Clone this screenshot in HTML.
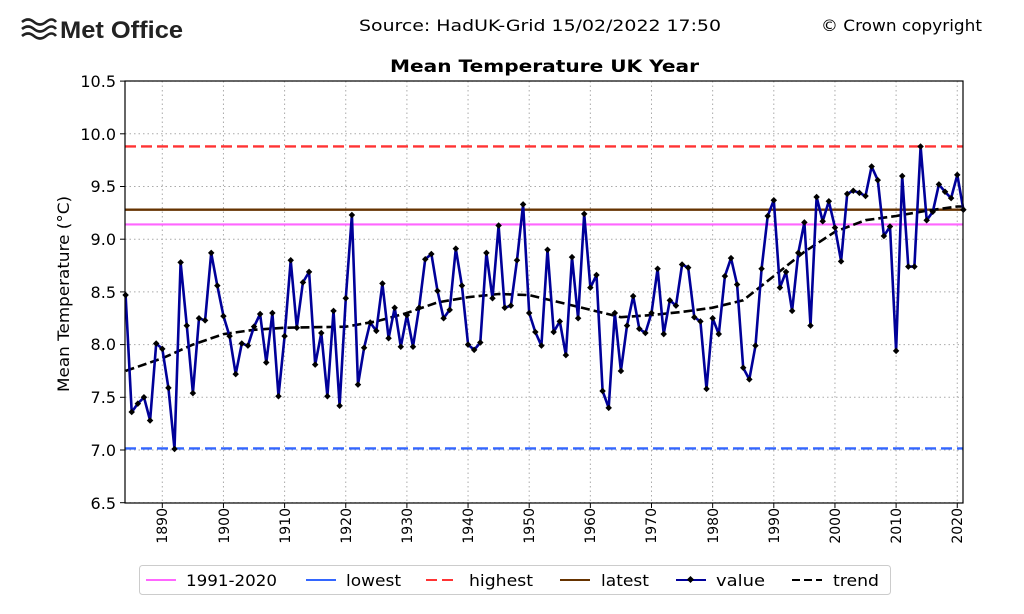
<!DOCTYPE html>
<html><head><meta charset="utf-8"><style>
html,body{margin:0;padding:0;background:#fff;}
svg{display:block;font-family:"DejaVu Sans","Liberation Sans",sans-serif;}
</style></head><body>
<svg id="s" width="1024" height="614" viewBox="0 0 1024 614" xmlns="http://www.w3.org/2000/svg">
<rect width="1024" height="614" fill="#fff"/>
<g stroke="#222" stroke-width="2.6" fill="none">
<path d="M22 22 q6 -5 12 0 t12 0 t10 0"/>
<path d="M22 29 q6 -5 12 0 t12 0 t10 0"/>
<path d="M22 36 q6 -5 12 0 t12 0 t10 0"/>
</g>
<text x="60" y="38" font-size="24" font-weight="bold" fill="#222" font-family="Liberation Sans" textLength="123" lengthAdjust="spacingAndGlyphs">Met Office</text>
<text x="359" y="31" font-size="16" fill="#000" textLength="362" lengthAdjust="spacingAndGlyphs">Source: HadUK-Grid 15/02/2022 17:50</text>
<text x="821" y="31" font-size="16" fill="#000" textLength="161" lengthAdjust="spacingAndGlyphs">© Crown copyright</text>
<text x="390" y="72" font-size="17" font-weight="bold" textLength="309" lengthAdjust="spacingAndGlyphs">Mean Temperature UK Year</text>
<text transform="translate(69,392) rotate(-90)" font-size="16" textLength="196" lengthAdjust="spacingAndGlyphs">Mean Temperature (°C)</text>
<g id="grid" stroke="#aaa" stroke-width="1" stroke-dasharray="1.5,3"></g>
<g id="ref"></g>
<g id="series"></g>
<rect x="125" y="81" width="838" height="422" fill="none" stroke="#000" stroke-width="1.2"/>
<g id="ticks" stroke="#000" stroke-width="1"></g>
<g id="ylab" font-size="16" text-anchor="end">
<text x="116" y="87">10.5</text><text x="116" y="140">10.0</text><text x="116" y="192">9.5</text>
<text x="116" y="245">9.0</text><text x="116" y="298">8.5</text><text x="116" y="350">8.0</text>
<text x="116" y="403">7.5</text><text x="116" y="456">7.0</text><text x="116" y="509">6.5</text>
</g>
<g font-size="14" text-anchor="end">
<text transform="translate(167,508) rotate(-90)">1890</text>
<text transform="translate(229,508) rotate(-90)">1900</text>
<text transform="translate(290,508) rotate(-90)">1910</text>
<text transform="translate(351,508) rotate(-90)">1920</text>
<text transform="translate(412,508) rotate(-90)">1930</text>
<text transform="translate(473,508) rotate(-90)">1940</text>
<text transform="translate(534,508) rotate(-90)">1950</text>
<text transform="translate(595,508) rotate(-90)">1960</text>
<text transform="translate(656,508) rotate(-90)">1970</text>
<text transform="translate(718,508) rotate(-90)">1980</text>
<text transform="translate(779,508) rotate(-90)">1990</text>
<text transform="translate(840,508) rotate(-90)">2000</text>
<text transform="translate(901,508) rotate(-90)">2010</text>
<text transform="translate(962,508) rotate(-90)">2020</text>
</g>
<rect x="139.5" y="565.5" width="751" height="29" rx="3" fill="#fff" stroke="#ccc"/>
<g font-size="16">
<line x1="146" y1="580" x2="176" y2="580" stroke="#ff66ff" stroke-width="2"/>
<text x="186" y="586" textLength="91" lengthAdjust="spacingAndGlyphs">1991-2020</text>
<line x1="306" y1="580" x2="336" y2="580" stroke="#3366ff" stroke-width="2"/>
<text x="346" y="586" textLength="55" lengthAdjust="spacingAndGlyphs">lowest</text>
<line x1="426" y1="580" x2="456" y2="580" stroke="#ff3333" stroke-width="2" stroke-dasharray="11,5"/>
<text x="469" y="586" textLength="64" lengthAdjust="spacingAndGlyphs">highest</text>
<line x1="560" y1="580" x2="590" y2="580" stroke="#663300" stroke-width="2"/>
<text x="601" y="586" textLength="48" lengthAdjust="spacingAndGlyphs">latest</text>
<line x1="676" y1="580" x2="706" y2="580" stroke="#000099" stroke-width="2"/>
<rect x="688" y="577" width="5" height="5" transform="rotate(45 690.5 579.5)" fill="#000"/>
<text x="716" y="586" textLength="49" lengthAdjust="spacingAndGlyphs">value</text>
<line x1="792" y1="580" x2="822" y2="580" stroke="#000" stroke-width="2" stroke-dasharray="8,4"/>
<text x="833" y="586" textLength="46" lengthAdjust="spacingAndGlyphs">trend</text>
</g>
</svg>
<script>
var NS="http://www.w3.org/2000/svg";
function X(yr){return 162.3+(yr-1890)*6.115;}
function Y(v){return 450-(v-7)*105.4;}
function el(p,t,a){var e=document.createElementNS(NS,t);for(var k in a)e.setAttribute(k,a[k]);document.getElementById(p).appendChild(e);return e;}
for(var y=1890;y<=2020;y+=10){el("grid","line",{x1:X(y),x2:X(y),y1:81,y2:503});el("ticks","line",{x1:X(y),x2:X(y),y1:503,y2:508});}
for(var v=6.5;v<=10.51;v+=0.5){el("grid","line",{x1:125,x2:963,y1:Y(v),y2:Y(v)});el("ticks","line",{x1:120,x2:125,y1:Y(v),y2:Y(v)});}
el("ref","line",{x1:125,x2:963,y1:Y(9.14),y2:Y(9.14),stroke:"#ff66ff","stroke-width":2.2});
el("ref","line",{x1:125,x2:963,y1:Y(7.015),y2:Y(7.015),stroke:"#3366ff","stroke-width":2.4,"stroke-dasharray":"11,5"});
el("ref","line",{x1:125,x2:963,y1:Y(9.88),y2:Y(9.88),stroke:"#ff3333","stroke-width":2.4,"stroke-dasharray":"11,5"});
el("ref","line",{x1:125,x2:963,y1:Y(9.28),y2:Y(9.28),stroke:"#663300","stroke-width":2.4});
var d=[8.47,7.36,7.44,7.50,7.28,8.01,7.96,7.59,7.01,8.78,8.18,7.54,8.25,8.23,8.87,8.56,8.27,8.08,7.72,8.01,7.99,8.17,8.29,7.83,8.30,7.51,8.08,8.80,8.16,8.59,8.69,7.81,8.11,7.51,8.32,7.42,8.44,9.23,7.62,7.97,8.21,8.13,8.58,8.06,8.35,7.98,8.28,7.98,8.35,8.81,8.86,8.51,8.25,8.33,8.91,8.56,8.00,7.95,8.02,8.87,8.44,9.13,8.35,8.37,8.80,9.33,8.30,8.12,7.99,8.90,8.12,8.22,7.90,8.83,8.25,9.24,8.54,8.66,7.56,7.40,8.30,7.75,8.18,8.46,8.15,8.11,8.30,8.72,8.10,8.42,8.37,8.76,8.73,8.26,8.22,7.58,8.25,8.10,8.65,8.82,8.57,7.78,7.67,7.99,8.72,9.22,9.37,8.54,8.69,8.32,8.87,9.16,8.18,9.40,9.17,9.36,9.11,8.79,9.43,9.46,9.44,9.41,9.69,9.56,9.03,9.12,7.94,9.60,8.74,8.74,9.88,9.18,9.26,9.52,9.45,9.39,9.61,9.28];
var tk=[[1884,7.75],[1890,7.87],[1895,8.0],[1900,8.10],[1905,8.14],[1910,8.16],[1920,8.17],[1925,8.22],[1930,8.30],[1935,8.40],[1940,8.45],[1945,8.48],[1950,8.47],[1955,8.40],[1960,8.33],[1965,8.26],[1970,8.28],[1975,8.31],[1980,8.35],[1985,8.42],[1990,8.65],[1995,8.88],[2000,9.07],[2005,9.18],[2010,9.22],[2015,9.27],[2020,9.31],[2021,9.31]];
var p=tk.map(function(a){return X(a[0]).toFixed(1)+","+Y(a[1]).toFixed(1);}).join(" ");
el("series","polyline",{points:p,fill:"none",stroke:"#000","stroke-width":2.6,"stroke-dasharray":"9,4"});
var q=d.map(function(v,i){return X(1884+i).toFixed(1)+","+Y(v).toFixed(1);}).join(" ");
el("series","polyline",{points:q,fill:"none",stroke:"#000099","stroke-width":2.6,"stroke-linejoin":"round"});
d.forEach(function(v,i){var x=X(1884+i),y=Y(v);el("series","rect",{x:x-2.3,y:y-2.3,width:4.6,height:4.6,fill:"#000",transform:"rotate(45 "+x+" "+y+")"});});
</script>
</body></html>
